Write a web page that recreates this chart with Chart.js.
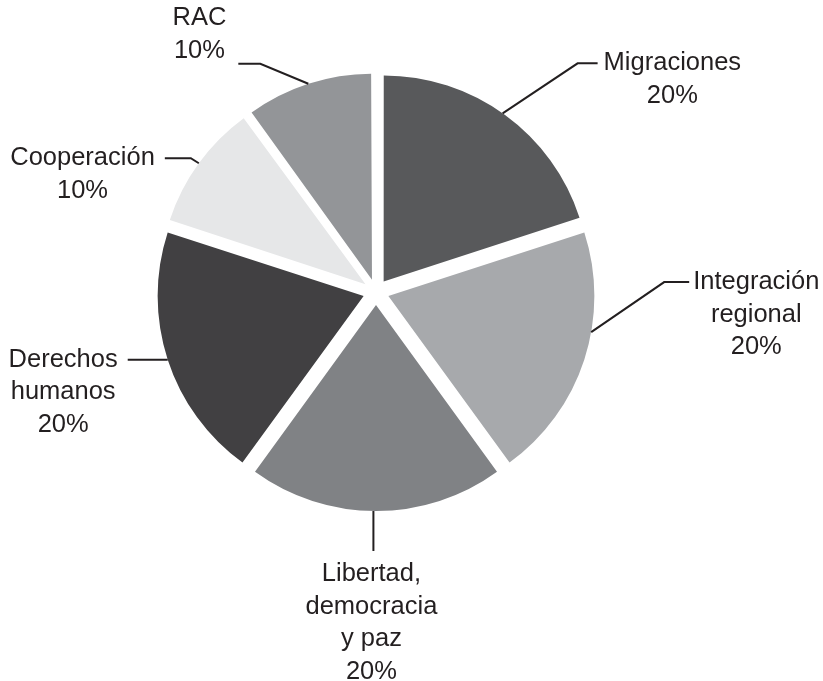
<!DOCTYPE html>
<html>
<head>
<meta charset="utf-8">
<script src="https://cdn.jsdelivr.net/npm/chart.js@4/dist/chart.umd.min.js"></script>
<style>
  html, body { margin: 0; padding: 0; background: #ffffff; }
  #chart-container { width: 823px; height: 681px; }
</style>
</head>
<body>
<div id="chart-container"><canvas id="pieChart"></canvas></div>
<script>
// Chart data
const categories = [
  "Migraciones",
  "Integración\nregional",
  "Libertad,\ndemocracia\ny paz",
  "Derechos\nhumanos",
  "Cooperación",
  "RAC",
];
const shares = [20, 20, 20, 20, 10, 10];
const sliceColors = ["#58595b", "#a7a9ac", "#808285", "#414042", "#e6e7e8", "#939598"];

const inkColor = "#231f20";
const labelFont = "25.5px 'Liberation Sans', Arial, sans-serif";
const lineHeight = 32.5;

// Leader line layout for each slice (relative to the point on the slice edge)
const leaderLayout = [
  { frac: 0.49, elbow: [75, -50], run: 20, side: "right", gap: 6 },
  { frac: 0.39, elbow: [73, -50], run: 25, side: "right", gap: 4 },
  { frac: 0.51, elbow: [0, 40], run: 0, side: "below", gap: 23 },
  { frac: 0.5, elbow: [0, 0], run: -40, side: "left", gap: 10 },
  { frac: 0.5, elbow: [-8, -5], run: -26, side: "left", gap: 10 },
  { frac: 0.5, elbow: [-48, -20], run: -22, side: "above", gap: 12 },
];

// Chart.js grows the radius of offset slices a little; keep all slices the same size
function radiusFix(arc) {
  const shift = (arc.options.offset || 0) / 4;
  return shift * (1 - Math.sin(Math.min(Math.PI, arc.circumference)));
}

const evenRadius = {
  id: "evenRadius",
  afterDatasetUpdate(chart, args) {
    args.meta.data.forEach((arc) => {
      arc.outerRadius -= radiusFix(arc);
    });
  },
};

const leaderLabels = {
  id: "leaderLabels",
  afterDraw(chart) {
    const ctx = chart.ctx;
    const meta = chart.getDatasetMeta(0);
    const total = shares.reduce((a, b) => a + b, 0);
    ctx.save();
    ctx.font = labelFont;
    ctx.fillStyle = inkColor;
    ctx.strokeStyle = inkColor;
    ctx.lineWidth = 2;
    ctx.textBaseline = "middle";
    ctx.textAlign = "center";

    meta.data.forEach((arc, i) => {
      const p = arc.getProps(["x", "y", "startAngle", "endAngle", "outerRadius"], true);
      const lay = leaderLayout[i];
      const half = (p.startAngle + p.endAngle) / 2;
      const shift = (arc.options.offset || 0) / 4;
      const r = p.outerRadius + radiusFix(arc);
      const a = p.startAngle + lay.frac * (p.endAngle - p.startAngle);
      const ax = p.x + Math.cos(half) * shift + Math.cos(a) * r;
      const ay = p.y + Math.sin(half) * shift + Math.sin(a) * r;
      const ex = ax + lay.elbow[0];
      const ey = ay + lay.elbow[1];
      const tx = ex + lay.run;

      ctx.beginPath();
      ctx.moveTo(ax, ay);
      ctx.lineTo(ex, ey);
      ctx.lineTo(tx, ey);
      ctx.stroke();

      const lines = categories[i].split("\n");
      lines.push(Math.round((shares[i] / total) * 100) + "%");
      const blockW = Math.max(...lines.map((l) => ctx.measureText(l).width));

      let cx, cy;
      if (lay.side === "right") {
        cx = tx + lay.gap + blockW / 2;
        cy = ey;
      } else if (lay.side === "left") {
        cx = tx - lay.gap - blockW / 2;
        cy = ey;
      } else if (lay.side === "below") {
        cx = tx - 2;
        cy = ey + lay.gap;
      } else {
        cx = tx - lay.gap - blockW / 2;
        cy = ey - 13 - (lines.length - 1) * lineHeight;
      }
      lines.forEach((l, k) => ctx.fillText(l, cx, cy + k * lineHeight));
    });
    ctx.restore();
  },
};

const ctx = document.getElementById("pieChart").getContext("2d");

new Chart(ctx, {
  type: "pie",
  data: {
    labels: categories,
    datasets: [
      {
        data: shares,
        backgroundColor: sliceColors,
        borderWidth: 0,
        offset: 52,
      },
    ],
  },
  options: {
    responsive: true,
    maintainAspectRatio: false,
    animation: false,
    radius: 206,
    layout: {
      padding: { left: 0, right: 71, top: 0, bottom: 97 },
    },
    plugins: {
      legend: { display: false },
      tooltip: { enabled: false },
    },
  },
  plugins: [evenRadius, leaderLabels],
});
</script>
</body>
</html>
